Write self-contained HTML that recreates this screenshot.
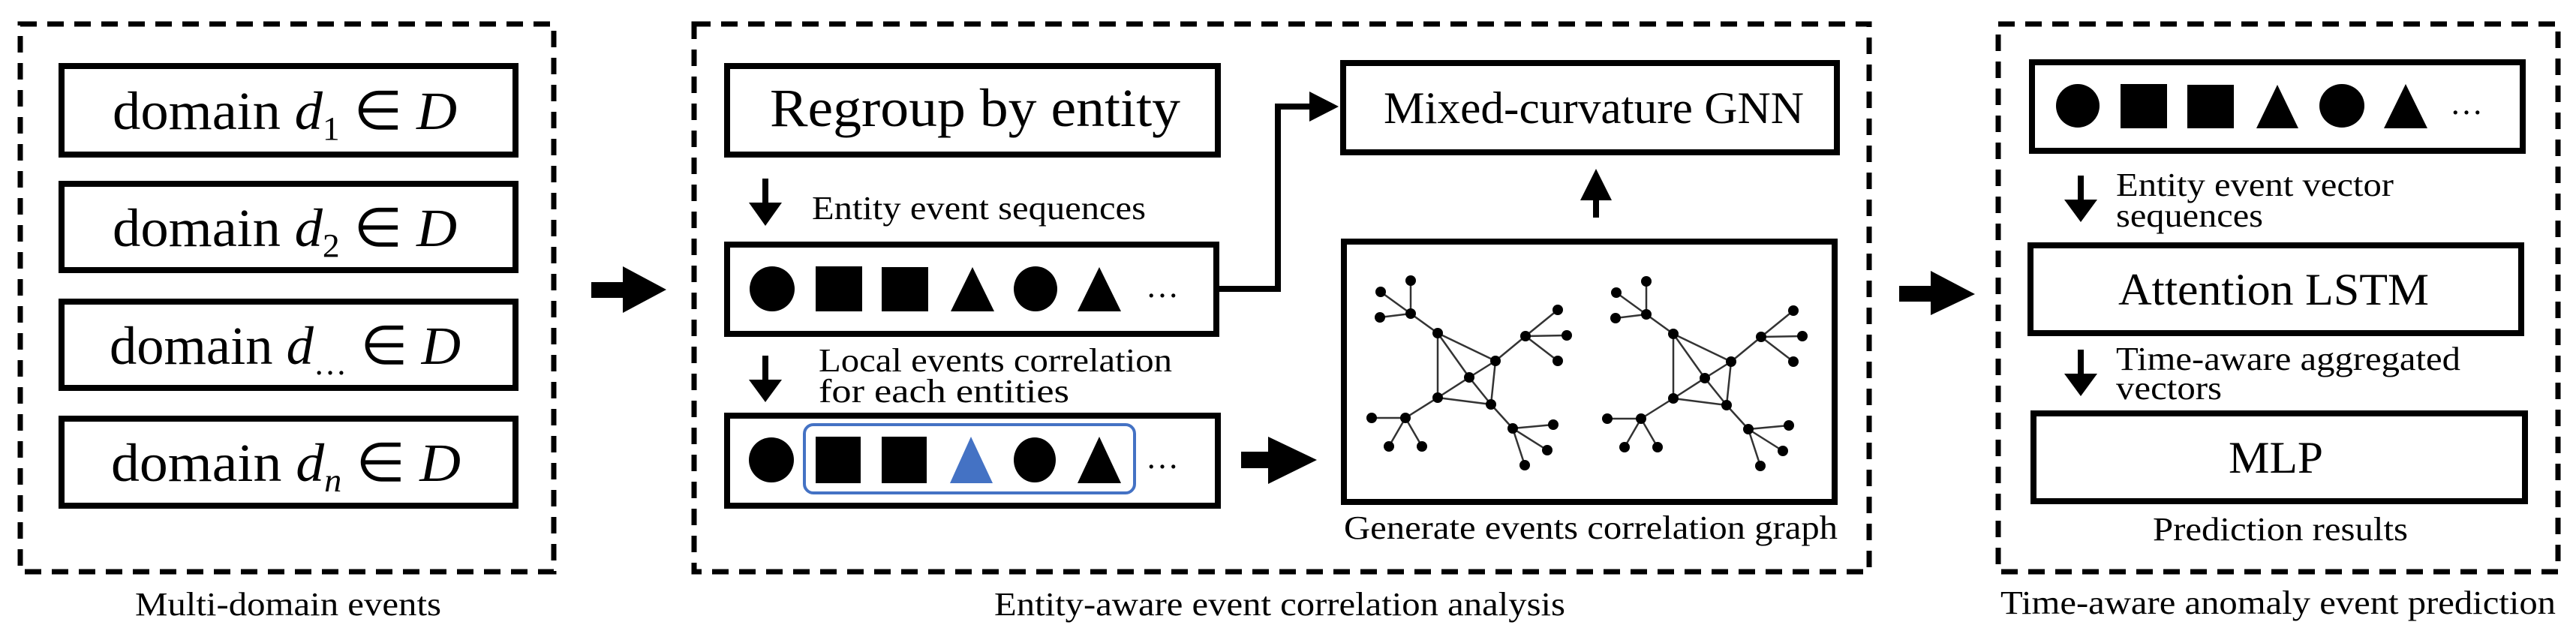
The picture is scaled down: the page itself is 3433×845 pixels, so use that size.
<!DOCTYPE html>
<html><head><meta charset="utf-8"><style>html,body{margin:0;padding:0;background:#fff}svg{display:block}text{font-family:"Liberation Serif",serif}</style></head>
<body>
<svg width="3433" height="845" viewBox="0 0 3433 845" xmlns="http://www.w3.org/2000/svg" font-family="Liberation Serif, serif">
<rect width="3433" height="845" fill="#fff"/>
<g fill="none" stroke="#000" stroke-width="7" stroke-dasharray="22 14">
<rect x="27" y="32" width="711" height="730"/>
<rect x="925" y="32" width="1566" height="730"/>
<rect x="2663" y="32" width="746" height="730"/>
</g>
<g fill="none" stroke="#000" stroke-width="8">
<rect x="82" y="88" width="605" height="118"/>
<rect x="82" y="245" width="605" height="115"/>
<rect x="82" y="402" width="605" height="115"/>
<rect x="82" y="558" width="605" height="116"/>
<rect x="969" y="88" width="654" height="118"/>
<rect x="969" y="326" width="652" height="119"/>
<rect x="969" y="554" width="654" height="120"/>
<rect x="1790" y="84" width="658" height="119"/>
<rect x="1791" y="322" width="654" height="347"/>
<rect x="2708" y="83" width="654" height="118"/>
<rect x="2706" y="327" width="654" height="117"/>
<rect x="2710" y="551" width="655" height="117"/>
</g>
<g font-size="72" fill="#000">
<text x="150" y="172" textLength="459" lengthAdjust="spacingAndGlyphs">domain <tspan font-style="italic">d</tspan><tspan font-size="44" dy="14">1</tspan><tspan dy="-14"> ∈ </tspan><tspan font-style="italic">D</tspan></text>
<text x="150" y="328" textLength="459" lengthAdjust="spacingAndGlyphs">domain <tspan font-style="italic">d</tspan><tspan font-size="44" dy="14">2</tspan><tspan dy="-14"> ∈ </tspan><tspan font-style="italic">D</tspan></text>
<text x="146" y="485" textLength="468" lengthAdjust="spacingAndGlyphs">domain <tspan font-style="italic">d</tspan><tspan font-size="44" dy="14">…</tspan><tspan dy="-14"> ∈ </tspan><tspan font-style="italic">D</tspan></text>
<text x="148" y="641" textLength="466" lengthAdjust="spacingAndGlyphs">domain <tspan font-style="italic">d</tspan><tspan font-size="44" dy="14" font-style="italic">n</tspan><tspan dy="-14"> ∈ </tspan><tspan font-style="italic">D</tspan></text>
<text x="1026" y="168" textLength="547" lengthAdjust="spacingAndGlyphs">Regroup by entity</text>
</g>
<g font-size="60" fill="#000">
<text x="1844" y="164" textLength="560" lengthAdjust="spacingAndGlyphs">Mixed-curvature GNN</text>
<text x="2823" y="406" textLength="414" lengthAdjust="spacingAndGlyphs">Attention LSTM</text>
<text x="2970" y="630" textLength="126" lengthAdjust="spacingAndGlyphs">MLP</text>
</g>
<g font-size="44" fill="#000">
<text x="180" y="820" textLength="408" lengthAdjust="spacingAndGlyphs">Multi-domain events</text>
<text x="1325" y="820" textLength="761" lengthAdjust="spacingAndGlyphs">Entity-aware event correlation analysis</text>
<text x="2666" y="818" textLength="740" lengthAdjust="spacingAndGlyphs">Time-aware anomaly event prediction</text>
<text x="1082" y="292" textLength="445" lengthAdjust="spacingAndGlyphs">Entity event sequences</text>
<text x="1091" y="495" textLength="471" lengthAdjust="spacingAndGlyphs">Local events correlation</text>
<text x="1091" y="536" textLength="334" lengthAdjust="spacingAndGlyphs">for each entities</text>
<text x="1791" y="718" textLength="658" lengthAdjust="spacingAndGlyphs">Generate events correlation graph</text>
<text x="2820" y="261" textLength="370" lengthAdjust="spacingAndGlyphs">Entity event vector</text>
<text x="2820" y="302" textLength="196" lengthAdjust="spacingAndGlyphs">sequences</text>
<text x="2820" y="493" textLength="459" lengthAdjust="spacingAndGlyphs">Time-aware aggregated</text>
<text x="2820" y="532" textLength="141" lengthAdjust="spacingAndGlyphs">vectors</text>
<text x="2869" y="720" textLength="340" lengthAdjust="spacingAndGlyphs">Prediction results</text>
</g>
<g fill="#000">
<polygon points="788,376 830,376 830,355 888,386 830,417 830,397 788,397"/>
<polygon points="2531,381 2573,381 2573,361 2632,392 2573,420 2573,402 2531,402"/>
<polygon points="1654,602 1690,602 1690,582 1755,613 1690,645 1690,624 1654,624"/>
<polygon points="1016,238 1024,238 1024,270 1042,270 1020,301 998,270 1016,270"/>
<polygon points="1016,474 1024,474 1024,506 1042,506 1020,536 998,506 1016,506"/>
<polygon points="2769,234 2777,234 2777,266 2795,266 2773,296 2751,266 2769,266"/>
<polygon points="2769,466 2777,466 2777,498 2795,498 2773,528 2751,498 2769,498"/>
<polygon points="2123,290 2131,290 2131,267 2148,267 2127,225 2106,267 2123,267"/>
<polygon points="1745,122 1784,142 1745,162"/>
</g>
<polyline points="1621,385 1703,385 1703,142 1750,142" fill="none" stroke="#000" stroke-width="8"/>
<g fill="#000">
<ellipse cx="1029" cy="385" rx="30" ry="30"/>
<rect x="1087" y="355" width="62" height="60"/>
<rect x="1175" y="356" width="62" height="59"/>
<polygon points="1296,356 1325,415 1267,415"/>
<ellipse cx="1380" cy="385" rx="29" ry="30"/>
<polygon points="1465,356 1494,415 1436,415"/>
<text x="1527" y="396" font-size="44">…</text>
<ellipse cx="1028" cy="613" rx="30" ry="30"/>
<rect x="1087" y="582" width="60" height="62"/>
<rect x="1175" y="582" width="60" height="62"/>
<polygon points="1294,582 1323,644 1266,644" fill="#4472C4"/>
<ellipse cx="1379" cy="613" rx="28" ry="30"/>
<polygon points="1465,582 1494,644 1436,644"/>
<text x="1527" y="624" font-size="44">…</text>
<ellipse cx="2769" cy="141" rx="29" ry="29"/>
<rect x="2826" y="112" width="62" height="59"/>
<rect x="2915" y="113" width="62" height="58"/>
<polygon points="3035,113 3063,171 3007,171"/>
<ellipse cx="3121" cy="141" rx="30" ry="29"/>
<polygon points="3206,112 3235,171 3177,171"/>
<text x="3265" y="152" font-size="44">…</text>
</g>
<rect x="1072" y="566" width="440" height="91" rx="12" fill="none" stroke="#4472C4" stroke-width="4"/>
<defs>
<g id="gr">
<g stroke="#333" stroke-width="2.5" fill="none">
<line x1="1916" y1="444" x2="1993" y2="481"/><line x1="1916" y1="444" x2="1958" y2="503"/>
<line x1="1916" y1="444" x2="1916" y2="530"/><line x1="1993" y1="481" x2="1958" y2="503"/>
<line x1="1993" y1="481" x2="1987" y2="539"/><line x1="1958" y1="503" x2="1916" y2="530"/>
<line x1="1958" y1="503" x2="1987" y2="539"/><line x1="1916" y1="530" x2="1987" y2="539"/>
<line x1="1916" y1="444" x2="1880" y2="418"/><line x1="1880" y1="418" x2="1880" y2="374"/>
<line x1="1880" y1="418" x2="1840" y2="389"/><line x1="1880" y1="418" x2="1839" y2="423"/>
<line x1="1993" y1="481" x2="2033" y2="448"/><line x1="2033" y1="448" x2="2076" y2="413"/>
<line x1="2033" y1="448" x2="2088" y2="447"/><line x1="2033" y1="448" x2="2076" y2="481"/>
<line x1="1916" y1="530" x2="1873" y2="557"/><line x1="1873" y1="557" x2="1828" y2="557"/>
<line x1="1873" y1="557" x2="1851" y2="595"/><line x1="1873" y1="557" x2="1895" y2="595"/>
<line x1="1987" y1="539" x2="2016" y2="571"/><line x1="2016" y1="571" x2="2070" y2="566"/>
<line x1="2016" y1="571" x2="2062" y2="600"/><line x1="2016" y1="571" x2="2032" y2="620"/>
</g>
<g fill="#000">
<circle cx="1958" cy="503" r="7"/><circle cx="1916" cy="444" r="7"/><circle cx="1993" cy="481" r="7"/>
<circle cx="1916" cy="530" r="7"/><circle cx="1987" cy="539" r="7"/><circle cx="1880" cy="418" r="7"/>
<circle cx="1880" cy="374" r="7"/><circle cx="1840" cy="389" r="7"/><circle cx="1839" cy="423" r="7"/>
<circle cx="2033" cy="448" r="7"/><circle cx="2076" cy="413" r="7"/><circle cx="2088" cy="447" r="7"/>
<circle cx="2076" cy="481" r="7"/><circle cx="1873" cy="557" r="7"/><circle cx="1828" cy="557" r="7"/>
<circle cx="1851" cy="595" r="7"/><circle cx="1895" cy="595" r="7"/><circle cx="2016" cy="571" r="7"/>
<circle cx="2070" cy="566" r="7"/><circle cx="2062" cy="600" r="7"/><circle cx="2032" cy="620" r="7"/>
</g>
</g>
</defs>
<use href="#gr"/>
<use href="#gr" transform="translate(314,1)"/>
</svg>
</body></html>
